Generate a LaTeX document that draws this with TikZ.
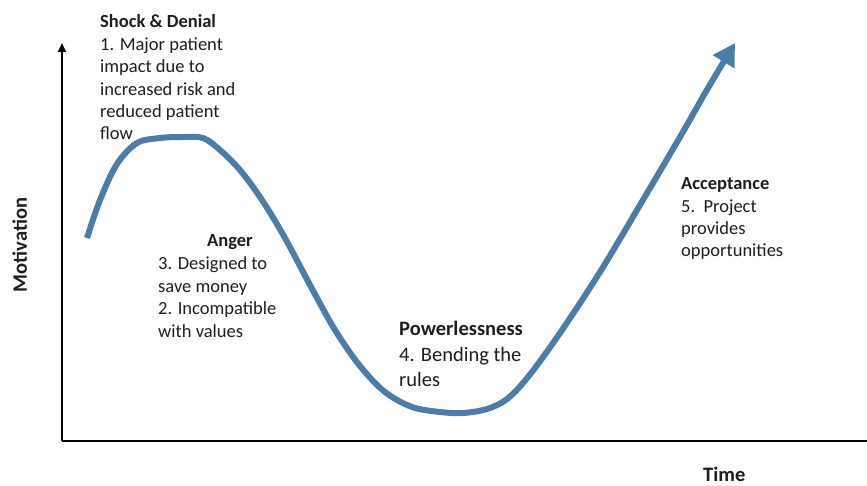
\documentclass[tikz,border=0pt]{standalone}
\usepackage{fontspec}
\setmainfont{Carlito}
\usetikzlibrary{arrows.meta}
\definecolor{curveblue}{RGB}{76,124,168}
\definecolor{txt}{RGB}{30,30,30}
\tikzset{
  axis/.style={line width=2.6pt, draw=black},
  curve/.style={line width=6pt, draw=curveblue},
  lbl/.style={anchor=base west, align=left, inner sep=0pt, font=\fontsize{18.5}{22.4}\selectfont, text=txt},
  big/.style={lbl, font=\fontsize{20.5}{25}\selectfont},
  axlbl/.style={lbl, font=\bfseries\fontsize{20.5}{24}\selectfont}
}
\begin{document}
\begin{tikzpicture}[x=1pt,y=-1pt]
\useasboundingbox (0,0) rectangle (867,486);
% axes
\coordinate (o) at (62,441);
\coordinate (ytop) at (62,43);
\coordinate (xend) at (867,441);
\draw[axis, -{Triangle[length=9pt,width=8pt]}] (o) -- (ytop);
\draw[axis] (o) -- (xend);
% curve
\draw[curve, -{Triangle[length=22pt,width=24pt]}] plot[smooth, tension=0.55] coordinates {
 (87,238) (100,200) (117,164) (137,143) (160,138) (182,137) (203,138) (220,150)
 (240,170) (262,200) (285,238) (310,285) (335,330) (360,366) (385,392) (412,407)
 (440,412) (463,413) (487,409) (507,399) (528,377) (560,333) (600,272) (640,205)
 (680,137) (708,88) (735,43)};
% labels (anchored at the baseline of the last line)
\node[lbl] (shock) at (100,28) {\textbf{Shock \& Denial}};
\node[lbl] (shockt) at (100,140) {1. Major patient\\impact due to\\increased risk and\\reduced patient\\flow};
\node[lbl] (anger) at (207,247) {\textbf{Anger}};
\node[lbl] (angert) at (158,337) {3. Designed to\\save money\\2. Incompatible\\with values};
\node[big] (power) at (399,335) {\textbf{Powerlessness}};
\node[big] (powert) at (399,386) {4. Bending the\\rules};
\node[lbl] (acc) at (681,190) {\textbf{Acceptance}};
\node[lbl] (acct) at (681,257) {5.\ \ Project\\provides\\opportunities};
\node[axlbl] (time) at (703,481) {Time};
\node[axlbl, rotate=90, anchor=base] (mot) at (27,245) {Motivation};
\end{tikzpicture}
\end{document}
